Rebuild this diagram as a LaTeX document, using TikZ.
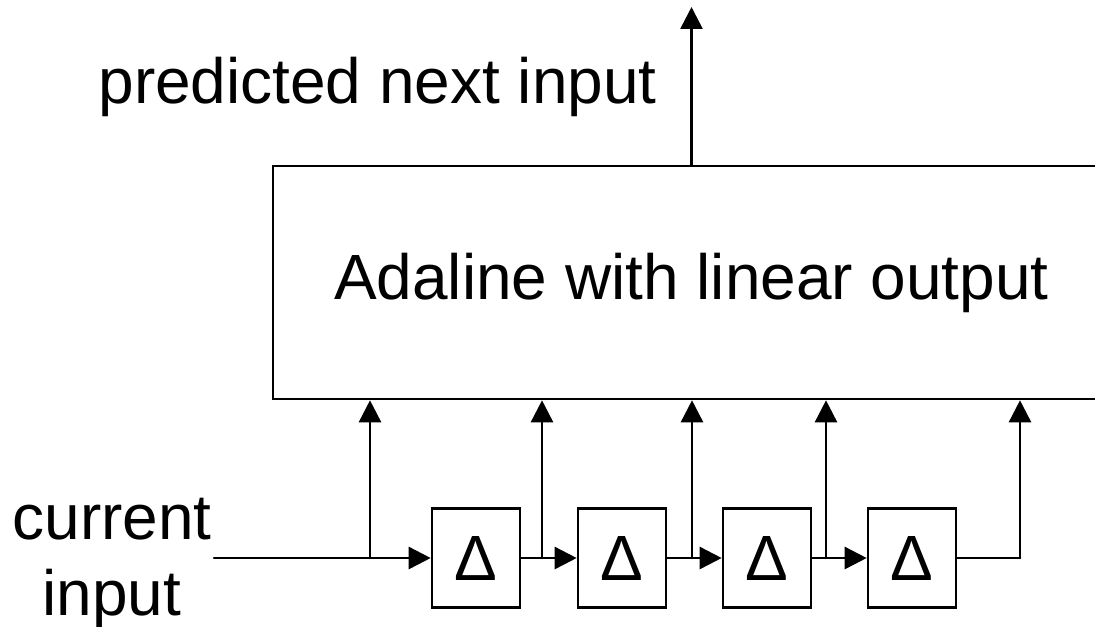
\documentclass[tikz,border=0pt]{standalone}
\usepackage{fontspec}
\setmainfont{Liberation Sans}
\usetikzlibrary{arrows.meta}

\begin{document}
\begin{tikzpicture}[x=0.02cm,y=-0.02cm,line width=1.5pt,
    >={Triangle[length=12.5pt,width=12.5pt]}]
\useasboundingbox (0,0) rectangle (1095,626);
\clip (0,0) rectangle (1095,626);
\begin{scope}[every node/.style={font=\fontsize{36.4}{42.7}\selectfont}]
    \node (A)[draw,minimum width=16.74cm,minimum height=4.66cm] at (691.5,282.5) {Adaline with linear output};
    \node (D1)[draw,minimum width=1.76cm,minimum height=1.98cm] at (476,558) {Δ};
    \node (D2)[draw,minimum width=1.76cm,minimum height=1.98cm] at (622,558) {Δ};
    \node (D3)[draw,minimum width=1.76cm,minimum height=1.98cm] at (767,558) {Δ};
    \node (D4)[draw,minimum width=1.76cm,minimum height=1.98cm] at (912,558) {Δ};
    \node (P)[inner sep=0,anchor=base east] at (658,103) {predicted next input};
    \node (C)[inner sep=0,align=center,anchor=base] at (112,615) {current\\input};
\end{scope}

\coordinate (IN) at (214,558);
\coordinate (OUT) at (691.5,7);
\coordinate (T1) at (370,558);
\coordinate (T2) at (542,558);
\coordinate (T3) at (692,558);
\coordinate (T4) at (826,558);
\coordinate (T5) at (1020,558);

\begin{scope}[line cap=round]
    \draw[->] (A.north) -- (OUT);
    \draw[->] (IN) -- (D1);
    \draw[->] (D1) -- (D2);
    \draw[->] (D2) -- (D3);
    \draw[->] (D3) -- (D4);
    \draw (D4.east) -- (T5);
    \draw[->] (T1) -- (T1 |- A.south);
    \draw[->] (T2) -- (T2 |- A.south);
    \draw[->] (T3) -- (T3 |- A.south);
    \draw[->] (T4) -- (T4 |- A.south);
    \draw[->] (T5) -- (T5 |- A.south);
\end{scope}
\end{tikzpicture}
\end{document}
